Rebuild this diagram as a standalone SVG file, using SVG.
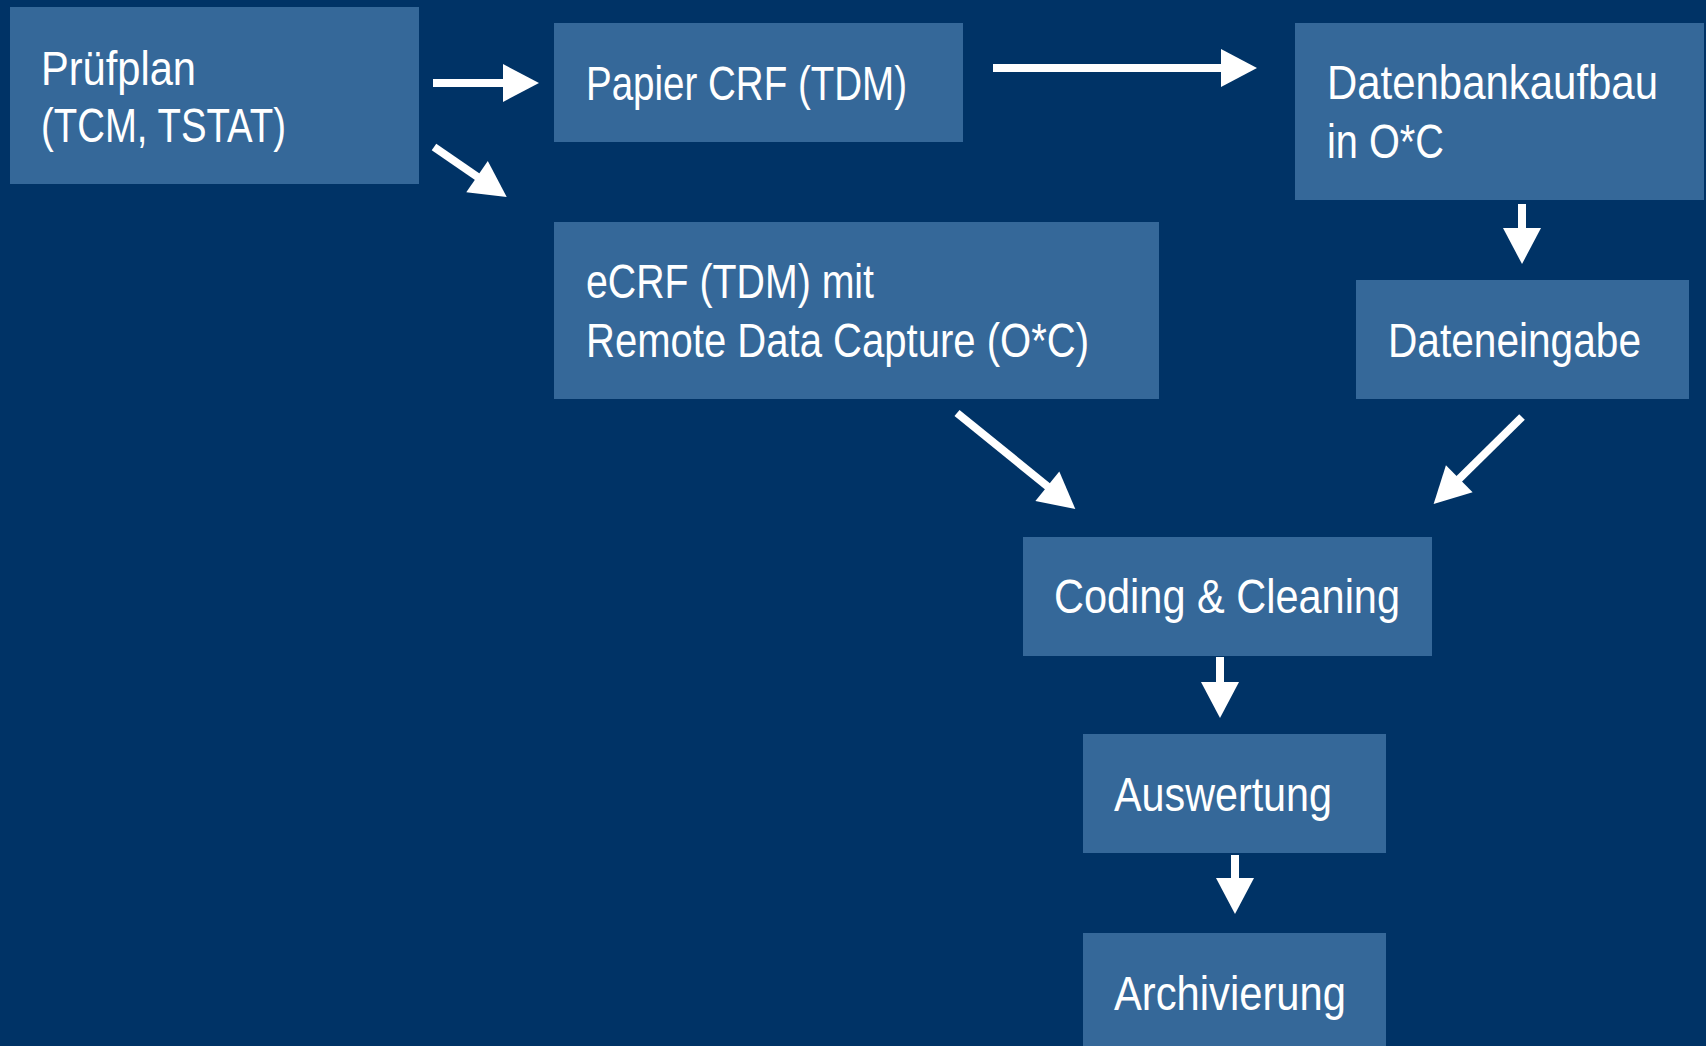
<svg xmlns="http://www.w3.org/2000/svg" width="1706" height="1046" viewBox="0 0 1706 1046">
<style>
.bg{fill:#003366}
.box{fill:#356899}
.t{font-family:"Liberation Sans Narrow","Liberation Sans",Arial,sans-serif;font-size:48px;fill:#ffffff}
.c{stroke:#ffffff;stroke-width:8;fill:none}
</style>
<defs>
<marker id="ah" markerUnits="userSpaceOnUse" markerWidth="36" markerHeight="38" refX="6" refY="19" orient="auto" overflow="visible">
<path d="M0,0 L36,19 L0,38 z" fill="#ffffff"/>
</marker>
</defs>
<rect class="bg" x="0" y="0" width="1706" height="1046"/>
<g id="pruefplan"><rect class="box" x="10" y="7" width="409" height="177"/>
<text class="t" x="41" y="85" textLength="155" lengthAdjust="spacingAndGlyphs">Prüfplan</text>
<text class="t" x="41" y="142" textLength="245" lengthAdjust="spacingAndGlyphs">(TCM, TSTAT)</text></g>
<g id="papier"><rect class="box" x="554" y="23" width="409" height="119"/>
<text class="t" x="586" y="100" textLength="321" lengthAdjust="spacingAndGlyphs">Papier CRF (TDM)</text></g>
<g id="datenbank"><rect class="box" x="1295" y="23" width="409" height="177"/>
<text class="t" x="1327" y="99" textLength="331" lengthAdjust="spacingAndGlyphs">Datenbankaufbau</text>
<text class="t" x="1327" y="158" textLength="117" lengthAdjust="spacingAndGlyphs">in O*C</text></g>
<g id="ecrf"><rect class="box" x="554" y="222" width="605" height="177"/>
<text class="t" x="586" y="298" textLength="288" lengthAdjust="spacingAndGlyphs">eCRF (TDM) mit</text>
<text class="t" x="586" y="357" textLength="503" lengthAdjust="spacingAndGlyphs">Remote Data Capture (O*C)</text></g>
<g id="dateneingabe"><rect class="box" x="1356" y="280" width="333" height="119"/>
<text class="t" x="1388" y="357" textLength="253" lengthAdjust="spacingAndGlyphs">Dateneingabe</text></g>
<g id="coding"><rect class="box" x="1023" y="537" width="409" height="119"/>
<text class="t" x="1054" y="613" textLength="346" lengthAdjust="spacingAndGlyphs">Coding &amp; Cleaning</text></g>
<g id="auswertung"><rect class="box" x="1083" y="734" width="303" height="119"/>
<text class="t" x="1114" y="811" textLength="218" lengthAdjust="spacingAndGlyphs">Auswertung</text></g>
<g id="archivierung"><rect class="box" x="1083" y="933" width="303" height="120"/>
<text class="t" x="1114" y="1010" textLength="232" lengthAdjust="spacingAndGlyphs">Archivierung</text></g>
<g id="connectors">
<line class="c" x1="433" y1="83" x2="509" y2="83" marker-end="url(#ah)"/>
<line class="c" x1="434" y1="147" x2="482" y2="180" marker-end="url(#ah)"/>
<line class="c" x1="993" y1="68" x2="1227" y2="68" marker-end="url(#ah)"/>
<line class="c" x1="1522" y1="204" x2="1522" y2="234" marker-end="url(#ah)"/>
<line class="c" x1="957" y1="413" x2="1052" y2="490" marker-end="url(#ah)"/>
<line class="c" x1="1522" y1="417" x2="1455" y2="483" marker-end="url(#ah)"/>
<line class="c" x1="1220" y1="657" x2="1220" y2="688" marker-end="url(#ah)"/>
<line class="c" x1="1235" y1="855" x2="1235" y2="884" marker-end="url(#ah)"/>
</g>
</svg>
